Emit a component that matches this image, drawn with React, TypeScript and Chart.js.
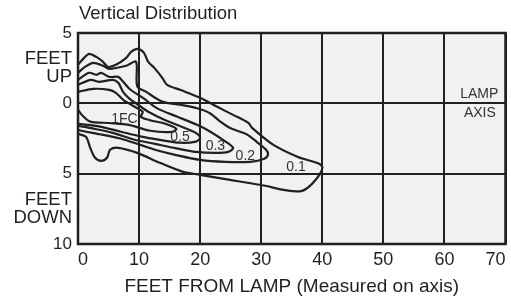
import React, { useEffect, useRef } from "react";
import { Chart, registerables } from "chart.js";

Chart.register(...registerables);

const FONT = "'Liberation Sans', Arial, Helvetica, sans-serif";
const LINE = "#231f20";
const TEXT = "#231f20";
const PLOT_BG = "#f0f1f3";

const chartTitle = "Vertical Distribution";
const xAxisTitle = "FEET FROM LAMP (Measured on axis)";

const xTicks = [0, 10, 20, 30, 40, 50, 60, 70];
const yTickValues = [-10, -7.5, -5, 0, 2.5, 5];
const yTickLabels: (string | string[])[] = ["10", ["FEET", "DOWN"], "5", "0", ["FEET", "UP"], "5"];

// Isofootcandle contours (feet from lamp, feet above/below lamp axis)
const c01X = [0, 1.0, 1.8, 3.0, 4.1, 4.9, 6.2, 7.9, 8.7, 9.8, 10.8, 11.5, 12.5, 13.8, 14.6, 16.7, 20.0, 22.8, 25.4, 27.9, 28.5, 32.0, 35.9, 40.0, 36.7, 29.8, 24.9, 20.0, 17.2, 13.4, 9.7, 6.6, 5.25, 4.75, 3.8, 2.8, 2.0, 1.3, 0];
const c01Y = [2.74, 3.23, 3.52, 3.30, 2.95, 2.59, 2.74, 3.23, 3.66, 3.87, 3.59, 2.95, 2.52, 1.81, 1.31, 0.96, 0.39, -0.25, -0.82, -1.39, -1.74, -2.95, -3.80, -4.51, -6.22, -5.79, -5.44, -5.08, -4.87, -4.23, -3.52, -3.16, -3.30, -3.87, -4.09, -3.87, -3.16, -2.38, -2.17];

const c02X = [0, 1.15, 2.5, 4.1, 5.1, 7.9, 9.5, 9.7, 11.1, 13.8, 16.7, 19.5, 21.6, 23.3, 24.9, 27.6, 29.3, 30.8, 31.1, 30.5, 28.2, 24.1, 20.0, 15.9, 12.6, 10.2, 6.9, 3.6, 1.15, 0];
const c02Y = [2.17, 2.59, 2.88, 2.67, 2.45, 2.67, 2.95, 1.2, 0.83, 0.12, -0.1, -0.35, -0.7, -1.3, -1.76, -2.2, -2.75, -3.3, -3.66, -3.94, -4.16, -4.16, -4.02, -3.66, -3.30, -2.95, -2.5, -2.2, -2.0, -1.9];

const c03X = [0, 1.8, 3.0, 3.8, 5.1, 6.6, 7.4, 8.5, 10.7, 12.9, 16.2, 19.5, 21.6, 24.1, 25.4, 24.6, 22.5, 19.3, 16.1, 12.6, 9.0, 5.7, 2.5, 0];
const c03Y = [1.67, 2.17, 2.03, 2.17, 1.88, 1.88, 1.53, 1.0, 0.37, -0.34, -0.94, -1.53, -2.0, -2.7, -3.16, -3.45, -3.52, -3.45, -3.2, -2.88, -2.55, -2.1, -1.8, -1.6];

const c05X = [0, 2.1, 3.4, 5.7, 6.6, 7.4, 8.5, 10.0, 11.5, 14.3, 17.5, 19.3, 20.0, 19.3, 16.7, 13.4, 10.2, 6.9, 3.6, 0];
const c05Y = [1.31, 1.67, 1.53, 1.67, 1.46, 0.8, 0.3, -0.15, -0.6, -1.2, -1.75, -2.1, -2.45, -2.72, -2.8, -2.6, -2.35, -2.0, -1.65, -1.45];

const c1X = [0, 2.5, 5.1, 6.2, 7.4, 9.5, 10.6, 10.3, 11.8, 14.3, 16.1, 15.4, 11.8, 8.5, 5.1, 2.0, 0.8, 0];
const c1Y = [0.82, 1.03, 0.96, 0.75, 0.25, -0.3, -0.6, -0.95, -1.2, -1.45, -1.81, -2.03, -1.95, -1.55, -1.4, -1.3, -0.9, -0.46];

const contourNames = ["0.1", "0.2", "0.3", "0.5", "1FC"];
const contourXs = [c01X, c02X, c03X, c05X, c1X];
const contourYs = [c01Y, c02Y, c03Y, c05Y, c1Y];

// Label anchor points (data units)
const labelX = [35.7, 27.4, 22.5, 16.7, 7.6];
const labelY = [-4.51, -3.73, -3.02, -2.38, -1.1];

const axisNote = ["LAMP", "AXIS"];
const axisNoteX = [65.7, 65.8];
const axisNoteY = [0.68, -0.68];

const decorPlugin = {
  id: "decor",
  beforeDraw(chart: any) {
    const { ctx, chartArea: a } = chart;
    ctx.save();
    ctx.fillStyle = PLOT_BG;
    ctx.fillRect(a.left, a.top, a.right - a.left, a.bottom - a.top);
    ctx.restore();
  },
  afterDraw(chart: any) {
    const { ctx, chartArea: a } = chart;
    const xs = chart.scales.x;
    const ys = chart.scales.y;
    ctx.save();
    ctx.strokeStyle = LINE;
    ctx.lineWidth = 2.5;
    ctx.strokeRect(a.left, a.top, a.right - a.left, a.bottom - a.top);

    ctx.fillStyle = TEXT;
    ctx.font = `18.5px ${FONT}`;
    ctx.textAlign = "left";
    ctx.textBaseline = "middle";
    ctx.fillText(chartTitle, a.left + 1, 14);

    ctx.fillStyle = "#333333";
    ctx.font = `14px ${FONT}`;
    ctx.textAlign = "center";
    for (let i = 0; i < contourNames.length; i++) {
      ctx.fillText(contourNames[i], xs.getPixelForValue(labelX[i]), ys.getPixelForValue(labelY[i]));
    }
    for (let i = 0; i < axisNote.length; i++) {
      ctx.fillText(axisNote[i], xs.getPixelForValue(axisNoteX[i]), ys.getPixelForValue(axisNoteY[i]));
    }
    ctx.restore();
  },
};

export default function App() {
  const ref = useRef<HTMLCanvasElement | null>(null);
  useEffect(() => {
    if (!ref.current) return;
    const datasets = contourNames.map((name, i) => ({
      label: name,
      data: contourXs[i].map((x, j) => ({ x, y: contourYs[i][j] })),
      showLine: true,
      borderColor: LINE,
      borderWidth: 2.2,
      pointRadius: 0,
      tension: 0.3,
      fill: false,
    }));
    const chart = new Chart(ref.current, {
      type: "scatter",
      data: { datasets },
      options: {
        animation: false,
        responsive: false,
        events: [],
        layout: { padding: { top: 33, right: 5.5, bottom: 0, left: 0 } },
        plugins: {
          legend: { display: false },
          tooltip: { enabled: false },
          title: { display: false },
        },
        scales: {
          x: {
            type: "linear",
            min: 0,
            max: 70,
            afterBuildTicks: (s: any) => {
              s.ticks = xTicks.map((v) => ({ value: v }));
            },
            afterFit: (s: any) => {
              s.height = 56;
            },
            grid: { color: LINE, lineWidth: 2, drawTicks: false },
            border: { display: false },
            ticks: {
              align: "inner",
              padding: 5,
              color: TEXT,
              font: { family: FONT, size: 18 },
              callback: (v: any) => String(v),
            },
            title: {
              display: true,
              text: xAxisTitle,
              color: TEXT,
              font: { family: FONT, size: 19 },
              padding: { top: 0, bottom: 2 },
            },
          },
          y: {
            type: "linear",
            min: -10,
            max: 5,
            afterBuildTicks: (s: any) => {
              s.ticks = yTickValues.map((v) => ({ value: v }));
            },
            afterFit: (s: any) => {
              s.width = 78;
            },
            grid: {
              color: (c: any) => (c.tick && c.tick.value % 5 === 0 ? LINE : "rgba(0,0,0,0)"),
              lineWidth: 2,
              drawTicks: false,
            },
            border: { display: false },
            ticks: {
              padding: 6,
              color: TEXT,
              font: (c: any) => ({
                family: FONT,
                size: c.tick && c.tick.value % 5 === 0 ? 17 : 18.5,
                lineHeight: 0.95,
              }),
              callback: (v: any) => yTickLabels[yTickValues.indexOf(Number(v))],
            },
          },
        },
      },
      plugins: [decorPlugin],
    } as any);
    return () => chart.destroy();
  }, []);
  return (
    <div style={{ position: "absolute", left: 0, top: 0, width: 511, height: 300, background: "#fff" }}>
      <canvas ref={ref} width={511} height={300} style={{ display: "block" }} />
    </div>
  );
}
